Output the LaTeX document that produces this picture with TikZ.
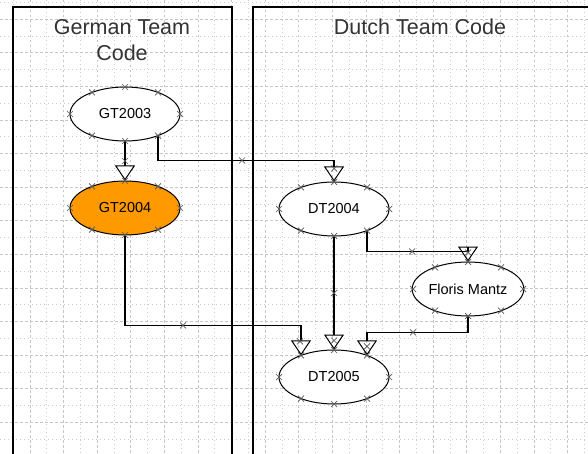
\documentclass[tikz,border=0pt]{standalone}
\usepackage{fontspec}
\setmainfont{Liberation Sans}
\usetikzlibrary{arrows.meta,shapes.geometric,calc}

\definecolor{gtorange}{RGB}{255,153,0}

\tikzset{
  state/.style={ellipse, draw=black, line width=1pt, fill=white,
    minimum width=110pt, minimum height=54pt, inner sep=0pt,
    font=\fontsize{14.5}{16}\selectfont},
  flow/.style={draw=black, line width=1.2pt,
    -{Triangle[open, length=15pt, width=20pt, line width=1pt]}},
  lane/.style={draw=black, line width=1.3pt},
  title/.style={font=\fontsize{21.5}{26.7}\selectfont, text=black!80, align=center},
  gridminor/.style={draw=gray!40, line width=0.7pt, dash pattern=on 1pt off 3pt},
  gridmajor/.style={draw=gray!45, line width=0.7pt, dash pattern=on 2.5pt off 2.5pt},
  xmark/.style={draw=black!65, line width=0.7pt},
}

% small connection-point cross centred on a named coordinate
\newcommand{\xmarkat}[1]{%
  \draw[xmark] ($(#1)+(-3,-3)$) -- ++(6,6) ($(#1)+(-3,3)$) -- ++(6,-6);}
% the eight connection points round an ellipse node
\newcommand{\ellmarks}[1]{%
  \foreach \dx/\dy in {0/-27,0/27,-55/0,55/0,-33/-21.6,33/-21.6,-33/21.6,33/21.6}{%
    \coordinate (tmpm) at ($(#1.center)+(\dx,\dy)$);
    \xmarkat{tmpm}}}

\begin{document}
\begin{tikzpicture}[x=1pt,y=-1pt]
  \useasboundingbox (0,0) rectangle (588,454);
  \clip (0,0) rectangle (588,454);
  \fill[white] (0,0) rectangle (588,454);

  % page grid
  \foreach \k in {0,...,17} {
    \draw[gridminor] ({13.2+33.6*\k},0) -- ({13.2+33.6*\k},454);
    \draw[gridmajor] ({30+33.6*\k},0) -- ({30+33.6*\k},454);
  }
  \foreach \k in {0,...,13} {
    \draw[gridminor] (0,{2.4+33.6*\k}) -- (588,{2.4+33.6*\k});
    \draw[gridmajor] (0,{19.2+33.6*\k}) -- (588,{19.2+33.6*\k});
  }

  % swimlanes
  \draw[lane] (13,460) -- (13,7) -- (232,7) -- (232,460);
  \draw[lane] (253,460) -- (253,7) -- (600,7);
  \node[title, anchor=base] (tg1) at (122,34.3) {German Team};
  \node[title, anchor=base] (tg2) at (122,61) {Code};
  \node[title, anchor=base] (td) at (420,34.3) {Dutch Team Code};

  % versions
  \node[state] (g3) at (125,114) {GT2003};
  \node[state, fill=gtorange] (g4) at (125,208) {GT2004};
  \node[state] (d4) at (334,209) {DT2004};
  \node[state] (d5) at (334,377) {DT2005};
  \node[state] (fm) at (468,289) {Floris Mantz};

  \coordinate (g3br) at ($(g3.center)+(33,21.6)$);
  \coordinate (d4br) at ($(d4.center)+(33,21.6)$);
  \coordinate (d5tl) at ($(d5.center)+(-33,-21.6)$);
  \coordinate (d5tr) at ($(d5.center)+(33,-21.6)$);
  \coordinate (k2) at ($(d4.north)+(0,-21)$);
  \coordinate (k3) at ($(d5tl)+(0,-30)$);
  \coordinate (k5) at ($(fm.north)+(0,-10)$);
  \coordinate (k6) at ($(d5tr)+(0,-23)$);

  % derivations
  \draw[flow] (g3.south) -- (g4.north);
  \draw[flow] (g3br) |- (k2) -- (d4.north);
  \draw[flow] (g4.south) |- (k3) -- (d5tl);
  \draw[flow] (d4.south) -- (d5.north);
  \draw[flow] (d4br) |- (k5) -- (fm.north);
  \draw[flow] (fm.south) |- (k6) -- (d5tr);

  % connection points
  \ellmarks{g3}
  \ellmarks{g4}
  \ellmarks{d4}
  \ellmarks{d5}
  \ellmarks{fm}

  \coordinate (m1) at ($(g3.south)!0.5!(g4.north)$);
  \coordinate (m2) at ($(k2)+(-92,0)$);
  \coordinate (m2b) at ($(d4.north)+(0,-13)$);
  \coordinate (m3) at ($(k3)+(-118,0)$);
  \coordinate (m3b) at ($(d5tl)+(-1,-14)$);
  \coordinate (m4) at ($(d4.south)!0.5!(d5.north)$);
  \coordinate (m4b) at ($(d5.north)+(0,-9)$);
  \coordinate (m5) at ($(k5)+(-56,0)$);
  \coordinate (m5b) at ($(k5)+(0,1)$);
  \coordinate (m6) at ($(k6)+(46,0)$);
  \coordinate (m6b) at ($(d5tr)+(0,-9)$);
  \foreach \m in {m1,m2,m2b,m3,m3b,m4,m4b,m5,m5b,m6,m6b} {\xmarkat{\m}}
\end{tikzpicture}
\end{document}
